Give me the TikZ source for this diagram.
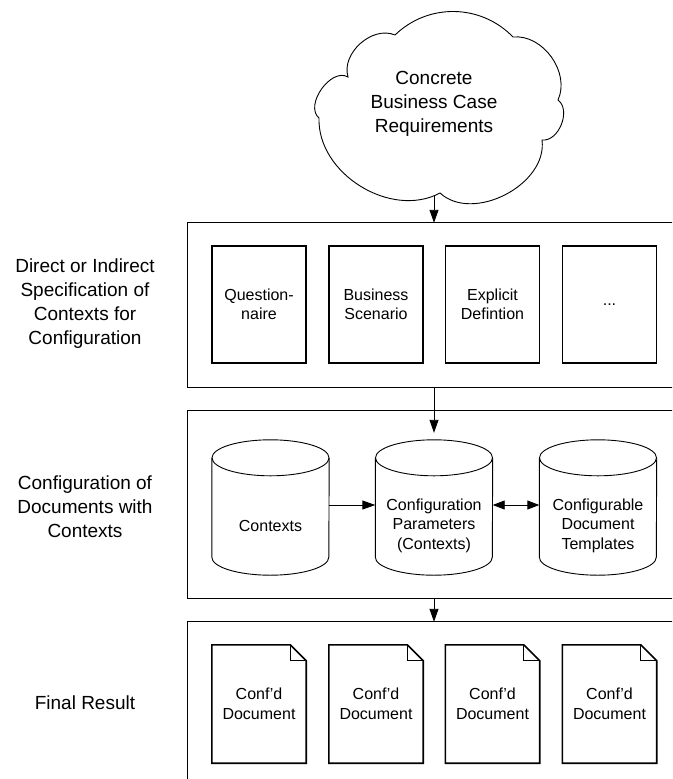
\documentclass[tikz,border=0pt]{standalone}
\usepackage{fontspec}
\setmainfont{Liberation Sans}
\usetikzlibrary{arrows.meta}
\newcommand\drumline[1]{\draw[line width=0.9pt] ([yshift=18]#1.north west) -- ([yshift=18]#1.south west) arc[start angle=180, end angle=360, x radius=58.5, y radius=18] -- ([yshift=18]#1.north east); \draw[line width=0.9pt] ([yshift=18]#1.north) ellipse[x radius=58.5, y radius=18];}
\newcommand\docsheet[1]{\draw[line width=1.6pt] (#1.north west) -- ([xshift=-16]#1.north east) -- ([yshift=-16]#1.north east) -- (#1.south east) -- (#1.south west) -- cycle; \draw[line width=0.8pt] ([xshift=-16]#1.north east) |- ([yshift=-16]#1.north east);}
\newcommand\openframe[1]{\draw[line width=0.9pt] (#1.north east) -- (#1.north west) -- (#1.south west) -- (#1.south east);}
\tikzset{
	frame/.style={inner sep=0pt, minimum width=560},
	card/.style={draw, line width=1.6pt, inner sep=0pt, minimum width=94, minimum height=117, align=center, font=\fontsize{16}{19.5}\selectfont},
	drum/.style={inner sep=0pt, minimum width=117, minimum height=99, align=center, font=\fontsize{16}{19.5}\selectfont},
	sheet/.style={inner sep=0pt, minimum width=94, minimum height=118, align=center, font=\fontsize{16}{19.5}\selectfont},
	side/.style={align=center, font=\fontsize{19}{24}\selectfont},
	link/.style={line width=0.9pt, -{Triangle[length=13pt,width=9pt]}},
	dlink/.style={line width=0.9pt, {Triangle[length=12pt,width=9pt]}-{Triangle[length=12pt,width=9pt]}}
}
\begin{document}
\begin{tikzpicture}[x=1pt, y=1pt]
	%%%%% START %%%%%
	\useasboundingbox (0,0) rectangle (672,-779);
	\clip (0,0) rectangle (672,-779);
	
	% requirements cloud
	\draw[line width=0.9pt] (395,-35) to[bend left=45] (513,-37) to[bend left=60] (558,-100) to[bend left=75] (542,-140) to[bend left=70] (440,-193) to[bend left=60] (319,-118) to[bend left=85] (348,-77) to[bend left=65] cycle;
	\node[side] (req) at (434,-104) {Concrete\\Business Case\\Requirements};
	\coordinate (cloudbot) at (434,-195);
	
	% three frames, running off the right edge
	\node[frame, minimum height=164] (spec) at (468,-305) {};
	\node[frame, minimum height=187] (conf) at (468,-504.5) {};
	\node[frame, minimum height=200] (result) at (468,-722) {};
	\openframe{spec}
	\openframe{conf}
	\openframe{result}
	
	\node[side] (speclabel) at (85,-304) {Direct or Indirect\\Specification of\\Contexts for\\Configuration};
	\node[side] (conflabel) at (85,-507) {Configuration of\\Documents with\\Contexts};
	\node[side] (resultlabel) at (85,-703) {Final Result};
	
	% specification
	\node[card] (quest) at (259,-304.5) {Question-\\naire};
	\node[card] (scen) at (376,-304.5) {Business\\Scenario};
	\node[card] (expl) at (492.5,-304.5) {Explicit\\Defintion};
	\node[card] (more) at (609.5,-304.5) {...};
	
	% configuration
	\node[drum] (ctx) at (270.5,-525.5) {Contexts};
	\node[drum] (cfg) at (434,-525.5) {Configuration\\Parameters\\(Contexts)};
	\node[drum] (tpl) at (598,-525.5) {Configurable\\Document\\Templates};
	\drumline{ctx}
	\drumline{cfg}
	\drumline{tpl}
	
	% results
	\node[sheet] (doca) at (259,-704) {Conf'd\\Document};
	\node[sheet] (docb) at (376,-704) {Conf'd\\Document};
	\node[sheet] (docc) at (492.5,-704) {Conf'd\\Document};
	\node[sheet] (docd) at (609.5,-704) {Conf'd\\Document};
	\docsheet{doca}
	\docsheet{docb}
	\docsheet{docc}
	\docsheet{docd}
	
	% arrows
	\draw[link] (cloudbot) -- (cloudbot |- spec.north);
	\draw[link] (spec.south -| cfg) -- ([yshift=43]cfg.north);
	\draw[link] ([yshift=20.5]ctx.east) -- ([yshift=20.5]cfg.west);
	\draw[dlink] ([yshift=20.5]cfg.east) -- ([yshift=20.5]tpl.west);
	\draw[link] (conf.south -| cfg) -- (result.north -| cfg);
	
	%%%%% END %%%%%
\end{tikzpicture}
\end{document}
